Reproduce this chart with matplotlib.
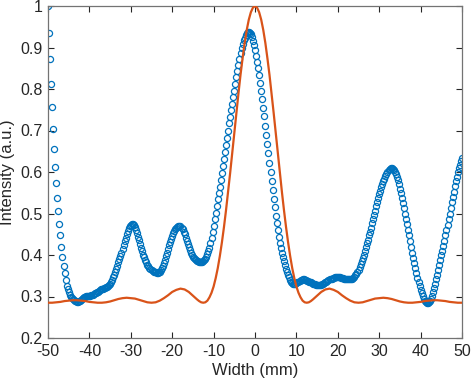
import numpy as np
import matplotlib
matplotlib.use("Agg")
import matplotlib.pyplot as plt

# ---- data ----
blue_x = np.linspace(-50, 50, 401)  # 0.25 mm grid
blue_y = [
    1.000, 0.935, 0.872, 0.812, 0.756, 0.704, 0.656, 0.613, 0.573, 0.537, 0.505, 0.475, 0.447, 0.420, 0.395, 0.374, 0.356, 0.340, 0.326, 0.317,
    0.310, 0.304, 0.300, 0.296, 0.293, 0.291, 0.289, 0.288, 0.287, 0.287, 0.288, 0.289, 0.291, 0.294, 0.296, 0.298, 0.300, 0.301, 0.301, 0.301,
    0.301, 0.302, 0.303, 0.304, 0.306, 0.308, 0.309, 0.311, 0.312, 0.314, 0.315, 0.317, 0.318, 0.319, 0.320, 0.321, 0.322, 0.323, 0.325, 0.327,
    0.330, 0.334, 0.340, 0.346, 0.352, 0.359, 0.366, 0.374, 0.382, 0.390, 0.398, 0.406, 0.415, 0.424, 0.433, 0.442, 0.450, 0.457, 0.464, 0.469,
    0.473, 0.475, 0.475, 0.472, 0.468, 0.461, 0.453, 0.444, 0.435, 0.426, 0.417, 0.409, 0.401, 0.394, 0.387, 0.382, 0.377, 0.373, 0.369, 0.366,
    0.364, 0.362, 0.360, 0.359, 0.358, 0.357, 0.357, 0.358, 0.360, 0.363, 0.368, 0.374, 0.381, 0.389, 0.397, 0.405, 0.414, 0.423, 0.431, 0.439,
    0.446, 0.452, 0.458, 0.462, 0.466, 0.468, 0.470, 0.470, 0.469, 0.466, 0.462, 0.456, 0.450, 0.442, 0.434, 0.426, 0.419, 0.412, 0.406, 0.401,
    0.396, 0.393, 0.390, 0.388, 0.386, 0.385, 0.384, 0.383, 0.383, 0.384, 0.385, 0.388, 0.391, 0.396, 0.403, 0.410, 0.418, 0.428, 0.440, 0.455,
    0.470, 0.486, 0.502, 0.518, 0.534, 0.549, 0.565, 0.581, 0.598, 0.615, 0.632, 0.648, 0.665, 0.683, 0.700, 0.717, 0.733, 0.749, 0.765, 0.780,
    0.796, 0.812, 0.828, 0.843, 0.858, 0.873, 0.886, 0.898, 0.908, 0.917, 0.924, 0.930, 0.934, 0.937, 0.938, 0.936, 0.932, 0.925, 0.915, 0.905,
    0.893, 0.880, 0.866, 0.851, 0.834, 0.815, 0.795, 0.775, 0.755, 0.734, 0.712, 0.690, 0.668, 0.645, 0.622, 0.600, 0.578, 0.556, 0.535, 0.515,
    0.495, 0.477, 0.460, 0.444, 0.430, 0.417, 0.405, 0.395, 0.385, 0.376, 0.367, 0.359, 0.352, 0.346, 0.340, 0.336, 0.333, 0.331, 0.330, 0.331,
    0.332, 0.334, 0.336, 0.338, 0.339, 0.340, 0.341, 0.341, 0.340, 0.339, 0.338, 0.337, 0.336, 0.335, 0.334, 0.332, 0.331, 0.330, 0.329, 0.328,
    0.328, 0.327, 0.327, 0.327, 0.328, 0.329, 0.330, 0.332, 0.334, 0.336, 0.338, 0.340, 0.341, 0.342, 0.343, 0.344, 0.345, 0.346, 0.346, 0.346,
    0.346, 0.346, 0.346, 0.345, 0.345, 0.344, 0.343, 0.342, 0.342, 0.341, 0.341, 0.341, 0.341, 0.342, 0.343, 0.345, 0.348, 0.351, 0.355, 0.360,
    0.365, 0.371, 0.378, 0.385, 0.393, 0.401, 0.410, 0.419, 0.428, 0.437, 0.447, 0.456, 0.466, 0.476, 0.486, 0.496, 0.506, 0.517, 0.527, 0.537,
    0.546, 0.555, 0.563, 0.571, 0.578, 0.584, 0.590, 0.595, 0.600, 0.604, 0.607, 0.609, 0.609, 0.608, 0.605, 0.601, 0.595, 0.588, 0.580, 0.570,
    0.560, 0.549, 0.538, 0.526, 0.513, 0.500, 0.487, 0.474, 0.460, 0.447, 0.433, 0.419, 0.406, 0.393, 0.380, 0.368, 0.356, 0.345, 0.335, 0.325,
    0.316, 0.308, 0.301, 0.295, 0.290, 0.286, 0.284, 0.284, 0.286, 0.290, 0.295, 0.302, 0.310, 0.320, 0.330, 0.341, 0.352, 0.364, 0.376, 0.388,
    0.399, 0.410, 0.422, 0.434, 0.447, 0.460, 0.473, 0.486, 0.500, 0.514, 0.527, 0.540, 0.553, 0.566, 0.578, 0.589, 0.600, 0.609, 0.618, 0.626,
    0.633,
]

orange_x = [
    -50, -49, -48, -47, -46, -45, -44, -43, -42, -41, -40, -39, -38, -37, -36, -35, -34, -33,
    -32, -31, -30, -29, -28, -27, -26, -25, -24, -23, -22, -21, -20, -19, -18, -17, -16, -15,
    -14, -13.5, -13, -12.5, -12, -11.5, -11, -10.5, -10, -9.5, -9, -8.5, -8, -7.5, -7, -6.5,
    -6, -5.5, -5, -4.5, -4, -3.5, -3, -2.5, -2, -1.5, -1, -0.5,
    0,
    0.5, 1, 1.5, 2, 2.5, 3, 3.5, 4, 4.5, 5, 5.5, 6, 6.5, 7, 7.5, 8, 8.5, 9, 9.5, 10, 10.5,
    11, 11.5, 12, 12.5, 13, 13.5, 14,
    15, 16, 17, 18, 19, 20, 21, 22, 23, 24, 25, 26, 27, 28, 29, 30, 31, 32, 33, 34, 35, 36,
    37, 38, 39, 40, 41, 42, 43, 44, 45, 46, 47, 48, 49, 50,
]
orange_y = [
    0.285, 0.285, 0.286, 0.287, 0.289, 0.290, 0.291, 0.291, 0.290, 0.289, 0.287, 0.286, 0.285, 0.285, 0.286, 0.288, 0.291, 0.294,
    0.296, 0.297, 0.296, 0.295, 0.292, 0.289, 0.286, 0.285, 0.286, 0.290, 0.296, 0.303, 0.311, 0.316, 0.319, 0.317, 0.311, 0.302,
    0.293, 0.289, 0.286, 0.285, 0.286, 0.290, 0.298, 0.309, 0.324, 0.344, 0.368, 0.397, 0.430, 0.467, 0.508, 0.552,
    0.598, 0.646, 0.695, 0.743, 0.789, 0.834, 0.874, 0.911, 0.942, 0.967, 0.985, 0.996,
    1.000,
    0.996, 0.985, 0.967, 0.942, 0.911, 0.874, 0.834, 0.789, 0.743, 0.695, 0.646, 0.598, 0.552, 0.508, 0.467, 0.430, 0.397, 0.368, 0.344, 0.324, 0.309,
    0.298, 0.290, 0.286, 0.285, 0.286, 0.289, 0.293,
    0.302, 0.311, 0.317, 0.319, 0.316, 0.311, 0.303, 0.296, 0.290, 0.286, 0.285, 0.286, 0.289, 0.292, 0.295, 0.296, 0.297, 0.296, 0.294, 0.291, 0.288, 0.286,
    0.285, 0.285, 0.286, 0.287, 0.289, 0.290, 0.291, 0.291, 0.290, 0.289, 0.287, 0.286, 0.285, 0.285,
]

x_ticks = [-50, -40, -30, -20, -10, 0, 10, 20, 30, 40, 50]
y_ticks = [0.2, 0.3, 0.4, 0.5, 0.6, 0.7, 0.8, 0.9, 1.0]
y_tick_labels = ["0.2", "0.3", "0.4", "0.5", "0.6", "0.7", "0.8", "0.9", "1"]
x_label = "Width (mm)"
y_label = "Intensity (a.u.)"

# ---- figure ----
plt.rcParams["font.family"] = ["Liberation Sans", "DejaVu Sans"]
plt.rcParams["axes.unicode_minus"] = False
fig = plt.figure(figsize=(4.74, 3.87), dpi=100)
ax = fig.add_axes([48 / 474, 49 / 387, (462 - 48) / 474, (338 - 6) / 387])

blue = (0.0, 0.447, 0.741)
orange = (0.85, 0.325, 0.098)
axis_col = (0.15, 0.15, 0.15)

ax.plot(blue_x, blue_y, linestyle="none", marker="o", markersize=4.4,
        markerfacecolor="none", markeredgecolor=blue, markeredgewidth=0.9, zorder=2)
ax.plot(orange_x, orange_y, color=orange, linewidth=1.6, zorder=3)

ax.set_xlim(-50, 50)
ax.set_ylim(0.2, 1.0)
ax.set_xticks(x_ticks)
ax.set_yticks(y_ticks)
ax.set_yticklabels(y_tick_labels)

ax.tick_params(direction="in", top=True, right=True, length=4, width=0.8,
               colors=axis_col, labelsize=11.5, pad=4)
for s in ax.spines.values():
    s.set_color((0.45, 0.45, 0.45))
    s.set_linewidth(0.9)

ax.set_xlabel(x_label, fontsize=12, color=axis_col, labelpad=3)
ax.set_ylabel(y_label, fontsize=12, color=axis_col, labelpad=4)

fig.savefig("out.png", dpi=100)
